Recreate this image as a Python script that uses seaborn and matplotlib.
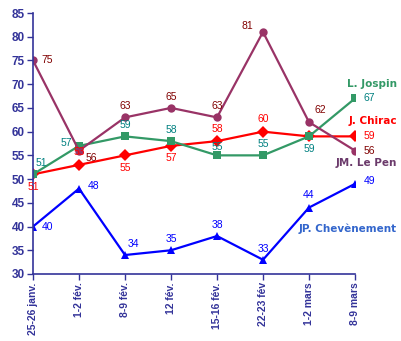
import matplotlib
matplotlib.use("Agg")
import matplotlib.pyplot as plt
import seaborn as sns
import pandas as pd

categories = ["25-26 janv.", "1-2 fév.", "8-9 fév.", "12 fév.", "15-16 fév.",
              "22-23 fév", "1-2 mars", "8-9 mars"]
chirac = [51, 53, 55, 57, 58, 60, 59, 59]
jospin = [51, 57, 59, 58, 55, 55, 59, 67]
lepen = [75, 56, 63, 65, 63, 81, 62, 56]
chevenement = [40, 48, 34, 35, 38, 33, 44, 49]
series_names = ["J. Chirac", "L. Jospin", "JM. Le Pen", "JP. Chevènement"]
y_ticks = [30, 35, 40, 45, 50, 55, 60, 65, 70, 75, 80, 85]

values = {"J. Chirac": chirac, "L. Jospin": jospin,
          "JM. Le Pen": lepen, "JP. Chevènement": chevenement}
rows = []
for name in series_names:
    for c, v in zip(categories, values[name]):
        rows.append({"cat": c, "val": v, "serie": name})
df = pd.DataFrame(rows)

line_colors = {"J. Chirac": "#FF0000", "L. Jospin": "#339966",
               "JM. Le Pen": "#993366", "JP. Chevènement": "#0000FF"}
label_colors = {"J. Chirac": "#FF0000", "L. Jospin": "#008080",
                "JM. Le Pen": "#800000", "JP. Chevènement": "#0000FF"}
name_colors = {"J. Chirac": "#FF0000", "L. Jospin": "#339966",
               "JM. Le Pen": "#6B3A6B", "JP. Chevènement": "#3366CC"}
markers = {"J. Chirac": "D", "L. Jospin": "s", "JM. Le Pen": "o", "JP. Chevènement": "^"}

sns.set_theme(style="white")
plt.rcParams['font.family'] = ['Liberation Sans', 'DejaVu Sans']

fig = plt.figure(figsize=(4.01, 3.41), dpi=100)
ax = fig.add_axes([33/401, 67/341, 322/401, 261/341])

sns.lineplot(data=df, x="cat", y="val", hue="serie", style="serie",
             markers=markers, dashes=False, palette=line_colors,
             hue_order=series_names, style_order=series_names,
             markersize=6, markeredgewidth=0, linewidth=1.6, sort=False,
             legend=False, ax=ax)

ax.set_xlim(0, 7)
ax.set_ylim(30, 85)
ax.set_yticks(y_ticks)
ax.set_xticks(range(len(categories)))
ax.set_xticklabels(categories, rotation=90)
ax.set_xlabel("")
ax.set_ylabel("")
navy = "#333399"
for s in ["top", "right"]:
    ax.spines[s].set_visible(False)
for s in ["left", "bottom"]:
    ax.spines[s].set_color(navy)
    ax.spines[s].set_linewidth(1.2)
ax.tick_params(axis="both", direction="out", length=4, width=1, color=navy,
               labelcolor=navy, pad=2)
ax.tick_params(axis="x", bottom=True, labelsize=7.5)
ax.tick_params(axis="y", left=True, labelsize=8.5)
for t in ax.get_yticklabels() + ax.get_xticklabels():
    t.set_fontweight("bold")
    t.set_color(navy)

# data label offsets (points): per series per point
offs = {
    "JM. Le Pen": [(6, 0, 'l'), (5, -5, 'l'), (0, 8, 'c'), (0, 8, 'c'), (0, 8, 'c'),
                   (-7, 4, 'r'), (4, 9, 'l'), (6, 0, 'l')],
    "L. Jospin": [(2, 8, 'l'), (-5, 2, 'r'), (0, 8, 'c'), (0, 8, 'c'), (0, 6, 'c'),
                  (0, 8, 'c'), (0, -9, 'c'), (6, 0, 'l')],
    "J. Chirac": [(0, -9, 'c'), (0, 9, 'c'), (0, -9, 'c'), (0, -9, 'c'), (0, 9, 'c'),
                  (0, 9, 'c'), None, (6, 0, 'l')],
    "JP. Chevènement": [(6, 0, 'l'), (6, 2, 'l'), (2, 8, 'l'), (0, 8, 'c'), (0, 8, 'c'),
                        (0, 8, 'c'), (0, 9, 'c'), (6, 2, 'l')],
}
ha_map = {'l': 'left', 'r': 'right', 'c': 'center'}
for name in series_names:
    for i, v in enumerate(values[name]):
        o = offs[name][i]
        if o is None:
            continue
        ax.annotate(str(v), (i, v), xytext=(o[0], o[1]), textcoords="offset points",
                    ha=ha_map[o[2]], va="center", fontsize=7.5,
                    color=label_colors[name], clip_on=False)

# series names on the right
name_pos = {"L. Jospin": 84, "J. Chirac": 121, "JM. Le Pen": 163, "JP. Chevènement": 229}
for name, ypx in name_pos.items():
    fig.text(397/401, 1 - ypx/341, name, ha="right", va="center", fontsize=7.5,
             fontweight="bold", color=name_colors[name],
             family=["DejaVu Sans"])

fig.savefig("out.png", dpi=100)
